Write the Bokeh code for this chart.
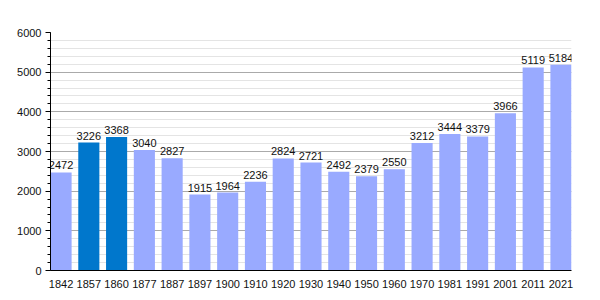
from bokeh.plotting import figure
from bokeh.models import ColumnDataSource, FixedTicker, Range1d
from bokeh.core.properties import value
from bokeh.embed import file_html
from bokeh.resources import INLINE

years = ["1842", "1857", "1860", "1877", "1887", "1897", "1900", "1910", "1920", "1930",
         "1940", "1950", "1960", "1970", "1981", "1991", "2001", "2011", "2021"]
population = [2472, 3226, 3368, 3040, 2827, 1915, 1964, 2236, 2824, 2721,
              2492, 2379, 2550, 3212, 3444, 3379, 3966, 5119, 5184]
highlight = ["1857", "1860"]
y_ticks = [0, 1000, 2000, 3000, 4000, 5000, 6000]

LIGHT = "#99AAFF"
DARK = "#0077CC"

xs = list(range(len(years)))
colors = [DARK if y in highlight else LIGHT for y in years]
src = ColumnDataSource(dict(x=xs, pop=population, color=colors,
                            label=[str(v) for v in population]))

half = 0.38
p = figure(width=600, height=300, output_backend="svg", toolbar_location=None,
           x_range=Range1d(-half, len(years) - 1 + half), y_range=Range1d(0, 6000),
           min_border_left=50, min_border_right=29, min_border_top=32, min_border_bottom=30)
p.outline_line_color = None
p.background_fill_color = "white"

p.vbar(x="x", top="pop", width=2 * half, fill_color="color", line_color=None, source=src)
p.text(x="x", y="pop", text="label", source=src, text_align="center", text_baseline="bottom",
       y_offset=-3, text_font=value("Liberation Sans"), text_font_size="11px", text_color="#111111")

# y axis
p.yaxis.ticker = FixedTicker(ticks=y_ticks, minor_ticks=list(range(0, 6001, 200)))
p.yaxis.major_label_text_font = "Liberation Sans"
p.yaxis.major_label_text_font_size = "11px"
p.yaxis.major_label_text_color = "#111111"
p.yaxis.axis_line_color = "black"
p.yaxis.major_tick_line_color = "black"
p.yaxis.major_tick_out = 5
p.yaxis.major_tick_in = 0
p.yaxis.minor_tick_line_color = "black"
p.yaxis.minor_tick_out = 3
p.yaxis.minor_tick_in = 0
p.yaxis.major_label_standoff = 4

# x axis
p.xaxis.ticker = FixedTicker(ticks=xs)
p.xaxis.major_label_overrides = {i: y for i, y in zip(xs, years)}
p.xaxis.major_label_text_font = "Liberation Sans"
p.xaxis.major_label_text_font_size = "11px"
p.xaxis.major_label_text_color = "#111111"
p.xaxis.axis_line_color = "black"
p.xaxis.major_tick_line_color = None
p.xaxis.minor_tick_line_color = None
p.xaxis.major_label_standoff = 3

# grid
p.xgrid.grid_line_color = None
p.ygrid.grid_line_color = "#AAAAAA"
p.ygrid.minor_grid_line_color = "#E4E4E4"

open("out.html", "w").write(file_html(p, INLINE))
